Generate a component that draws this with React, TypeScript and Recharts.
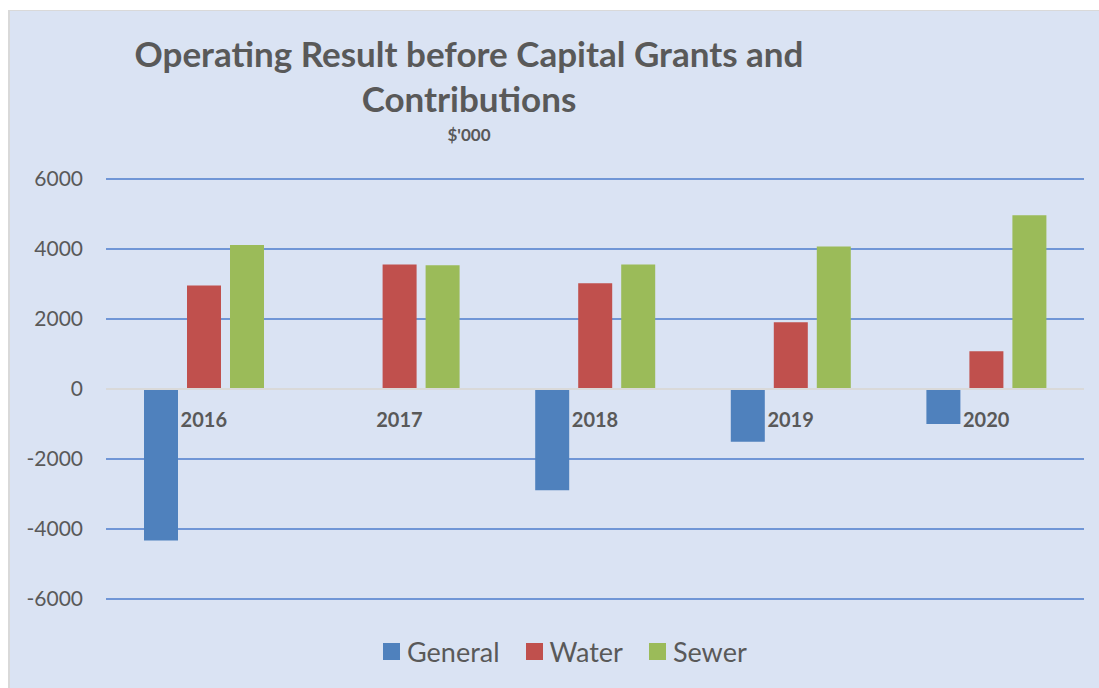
import React from "react";
import { BarChart, Bar, XAxis, YAxis, CartesianGrid, ReferenceLine } from "recharts";

const years = ["2016", "2017", "2018", "2019", "2020"];
const general = [-4330, -20, -2890, -1510, -1000];
const water = [2960, 3560, 3020, 1910, 1080];
const sewer = [4115, 3535, 3555, 4070, 4965];
const yTicks = [-6000, -4000, -2000, 0, 2000, 4000, 6000];
const seriesNames = ["General", "Water", "Sewer"];
const seriesColors = ["#4f81bd", "#c0504d", "#9bbb59"];

const data = years.map((y, i) => ({ year: y, General: general[i], Water: water[i], Sewer: sewer[i] }));

const W = 1091;
const H = 678;
const X_AXIS_H = 30;
const MARGIN = { top: 168, right: 17, left: 0, bottom: 90 - X_AXIS_H };
const PLOT_H = H - MARGIN.top - MARGIN.bottom - X_AXIS_H;
const Y_MIN = -6000;
const Y_MAX = 6000;
const ZERO_FROM_BOTTOM = (PLOT_H * (0 - Y_MIN)) / (Y_MAX - Y_MIN);
const FONT = "Lato, 'Open Sans', sans-serif";
const TEXT = "#595959";

const YearTick = (props: any) => {
  const { x, y, payload } = props;
  return (
    <text x={x} y={y - ZERO_FROM_BOTTOM + 30} textAnchor="middle" fontFamily={FONT} fontWeight={700} fontSize={20} fill={TEXT}>
      {payload.value}
    </text>
  );
};

export default function App() {
  return (
    <div style={{ position: "absolute", left: 8, top: 10, width: W, height: H, background: "#dae3f3", borderLeft: "2px solid #d9d9d9", borderTop: "1px solid #d9d9d9", boxSizing: "border-box", fontFamily: FONT }}>
      <div style={{ position: "absolute", left: 0, top: 0 }}>
        <BarChart width={W} height={H} data={data} margin={MARGIN} barSize={34} barGap={9}>
          <CartesianGrid vertical={false} stroke="#7096d6" strokeWidth={2} />
          <XAxis dataKey="year" axisLine={false} tickLine={false} height={X_AXIS_H} tick={<YearTick />} interval={0} />
          <YAxis
            domain={[Y_MIN, Y_MAX]}
            ticks={yTicks}
            width={96}
            axisLine={false}
            tickLine={false}
            tickMargin={17}
            tick={{ fontFamily: FONT, fontSize: 21, fill: TEXT }}
          />
          <ReferenceLine y={0} stroke="#d9d9d9" strokeWidth={2} />
          {seriesNames.map((n, i) => (
            <Bar key={n} dataKey={n} fill={seriesColors[i]} isAnimationActive={false} />
          ))}
        </BarChart>
      </div>
      <div style={{ position: "absolute", left: 0, width: 918, top: 20, textAlign: "center", color: TEXT, fontWeight: 700, fontSize: 35, lineHeight: "45px" }}>
        Operating Result before Capital Grants and
        <br />
        Contributions
      </div>
      <div style={{ position: "absolute", left: 0, width: 918, top: 113, textAlign: "center", color: TEXT, fontWeight: 700, fontSize: 17 }}>
        $'000
      </div>
      <div style={{ position: "absolute", left: 373, top: 624, display: "flex", alignItems: "center", color: TEXT, fontSize: 27 }}>
        {seriesNames.map((n, i) => (
          <div key={n} style={{ display: "flex", alignItems: "center", marginRight: 26 }}>
            <div style={{ width: 17, height: 17, background: seriesColors[i], marginRight: 7 }} />
            <span>{n}</span>
          </div>
        ))}
      </div>
    </div>
  );
}
